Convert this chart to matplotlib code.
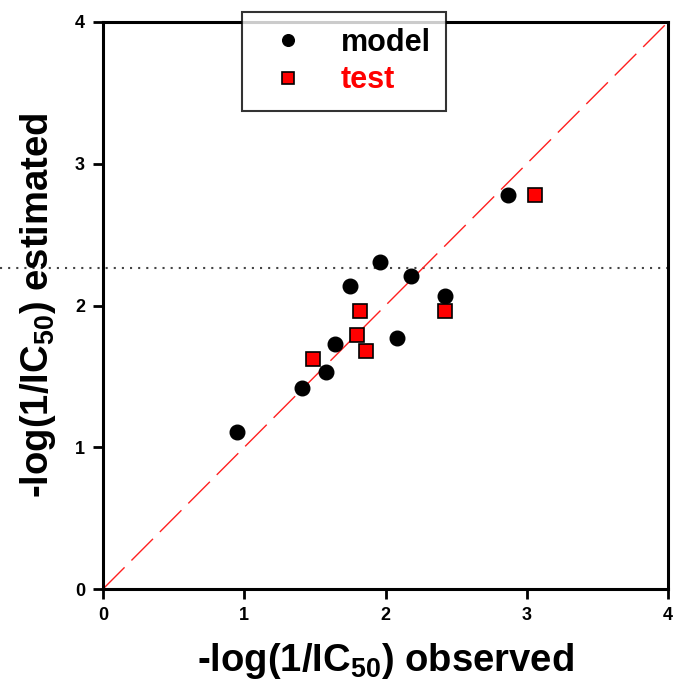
import matplotlib
matplotlib.use("Agg")
import matplotlib.pyplot as plt

plt.rcParams['font.family'] = ['Liberation Sans', 'DejaVu Sans']
plt.rcParams['font.weight'] = 'bold'
plt.rcParams['mathtext.fontset'] = 'custom'
plt.rcParams['mathtext.rm'] = 'Liberation Sans:bold'
plt.rcParams['mathtext.bf'] = 'Liberation Sans:bold'
plt.rcParams['mathtext.default'] = 'bf'

# data
model_x = [0.95, 1.41, 1.58, 1.64, 1.75, 1.96, 2.18, 2.08, 2.42, 2.87]
model_y = [1.11, 1.42, 1.53, 1.73, 2.14, 2.31, 2.21, 1.77, 2.07, 2.78]
test_x = [1.49, 1.82, 1.80, 1.86, 2.42, 3.06]
test_y = [1.62, 1.96, 1.79, 1.68, 1.96, 2.78]
ref_level = 2.265
ticks = [0, 1, 2, 3, 4]
tick_labels = ['0', '1', '2', '3', '4']

fig = plt.figure(figsize=(6.74, 6.92), dpi=100)
ax = fig.add_axes([103/674, 1-589/692, 565/674, 567/692])

ax.set_xlim(0, 4)
ax.set_ylim(0, 4)

# identity line
ax.plot([0, 4], [0, 4], color='#ff2020', lw=1.0, dashes=(22, 7), zorder=2)
# dotted horizontal line extending to figure left edge
ax.axhline(ref_level, xmin=-103/565, xmax=1.0, color='#444444', lw=1.5,
           linestyle=(0, (1, 2.9)), clip_on=False, zorder=1)

ax.plot(model_x, model_y, 'o', color='black', ms=10.5, zorder=3, label='model')
ax.plot(test_x, test_y, 's', mfc='red', mec='black', mew=1.2, ms=10.5, zorder=3,
        label='test')

ax.set_xticks(ticks)
ax.set_xticklabels(tick_labels)
ax.set_yticks(ticks)
ax.set_yticklabels(tick_labels)
ax.tick_params(direction='out', length=7, width=2, labelsize=13, pad=6,
               top=False, right=False)
for lab in ax.get_xticklabels() + ax.get_yticklabels():
    lab.set_fontweight('bold')
for sp in ax.spines.values():
    sp.set_linewidth(2.2)

ax.set_xlabel(r'-log(1/IC$_{50}$) observed', fontsize=27.5, fontweight='bold',
              labelpad=12)
ax.set_ylabel(r'-log(1/IC$_{50}$) estimated', fontsize=27.5, fontweight='bold',
              labelpad=12)

leg = ax.legend(loc='upper left', bbox_to_anchor=(242/674, 1-12/692),
                bbox_transform=fig.transFigure, fontsize=22, frameon=True,
                fancybox=False, edgecolor='black', borderpad=0.52,
                handlelength=2.0, handletextpad=0.7, labelspacing=0.24,
                markerscale=0.8, borderaxespad=0)
leg.get_frame().set_linewidth(1.5)
leg.get_texts()[1].set_color('red')
for t in leg.get_texts():
    t.set_fontweight('bold')

fig.savefig('out.png', dpi=100)
